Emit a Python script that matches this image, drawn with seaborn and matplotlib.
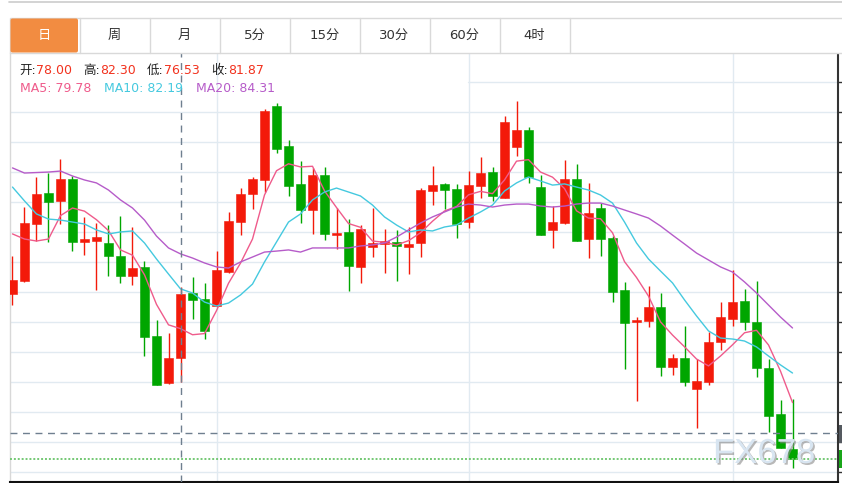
import matplotlib
matplotlib.use('Agg')
import matplotlib.pyplot as plt
import matplotlib.patches as mpatches
import matplotlib.patheffects as pe
import pandas as pd
import seaborn as sns

# Daily candles (price), oldest first
opens = [81.88, 82.67, 86.12, 88.00, 87.52, 88.85, 85.03, 85.09, 84.97, 84.18,
         82.97, 83.52, 79.33, 76.48, 78.00, 81.94, 81.58, 81.15, 83.21, 86.24,
         87.94, 88.79, 93.27, 90.85, 88.55, 86.97, 89.09, 85.45, 85.64, 83.52,
         84.73, 84.91, 85.03, 84.73, 84.97, 88.12, 88.55, 88.24, 86.24, 88.42,
         89.27, 87.70, 90.79, 91.82, 88.36, 85.76, 86.18, 88.85, 85.21, 87.09,
         85.27, 82.12, 80.18, 80.24, 81.09, 77.45, 78.00, 76.12, 76.55, 78.97,
         80.36, 81.45, 80.18, 77.39, 74.61, 72.48]
highs = [84.18, 87.15, 88.97, 89.21, 90.06, 89.03, 86.55, 86.18, 86.06, 86.61,
         85.94, 83.88, 80.30, 79.52, 82.30, 82.91, 82.55, 84.48, 86.85, 88.30,
         88.97, 93.09, 93.45, 91.21, 89.94, 89.52, 89.58, 87.09, 86.42, 86.06,
         87.09, 85.82, 85.76, 85.94, 88.30, 89.64, 88.61, 88.55, 89.33, 90.18,
         89.58, 92.67, 93.58, 92.00, 89.09, 87.21, 90.00, 89.76, 88.61, 87.39,
         85.39, 82.61, 80.48, 82.36, 81.94, 78.24, 79.94, 77.94, 79.58, 81.39,
         83.33, 82.18, 82.67, 77.94, 75.45, 75.52]
lows = [81.21, 82.60, 85.09, 85.03, 86.12, 84.48, 84.24, 82.12, 82.97, 82.55,
        82.42, 78.12, 76.36, 76.45, 76.53, 80.36, 79.15, 81.10, 83.18, 85.45,
        87.03, 88.06, 90.42, 87.82, 86.18, 85.52, 85.15, 84.61, 82.06, 82.55,
        84.12, 83.15, 82.67, 83.09, 84.12, 87.27, 87.03, 85.27, 85.88, 87.70,
        87.52, 87.68, 90.24, 88.61, 85.43, 84.67, 86.15, 85.07, 84.06, 84.18,
        81.39, 77.33, 75.39, 79.88, 76.91, 76.97, 76.30, 73.76, 76.36, 78.48,
        79.94, 79.70, 76.85, 73.52, 72.52, 71.33]
closes = [82.73, 86.18, 87.94, 87.45, 88.85, 85.03, 85.21, 85.33, 84.18, 82.97,
          83.45, 79.27, 76.38, 77.98, 81.87, 81.52, 79.64, 83.33, 86.30, 87.94,
          88.85, 92.97, 90.67, 88.42, 86.97, 89.09, 85.52, 85.58, 83.58, 85.82,
          84.97, 85.09, 84.79, 84.91, 88.18, 88.48, 88.18, 86.12, 88.48, 89.21,
          87.82, 92.30, 91.82, 88.97, 85.45, 86.24, 88.85, 85.09, 86.79, 85.21,
          82.00, 80.12, 80.30, 81.09, 77.45, 77.99, 76.55, 76.61, 78.97, 80.48,
          81.39, 80.18, 77.39, 74.48, 72.55, 71.88]

ma5 = [85.52, 85.21, 85.09, 85.21, 86.63, 87.09, 86.90, 86.38, 85.72, 84.55,
       84.23, 83.04, 81.25, 80.01, 79.78, 79.41, 79.48, 80.87, 82.53, 83.75,
       85.21, 87.88, 89.35, 89.77, 89.58, 89.62, 88.13, 87.12, 86.15, 85.92,
       85.09, 85.01, 84.85, 85.11, 85.59, 86.29, 86.91, 87.18, 87.89, 88.10,
       87.96, 88.79, 89.93, 90.02, 89.27, 88.96, 88.27, 86.92, 86.48, 86.44,
       85.59, 83.84, 82.88, 81.75, 80.19, 79.39, 78.68, 77.94, 77.52, 78.12,
       78.80, 79.53, 79.68, 78.79, 77.20, 75.30]
ma10 = [88.36, 87.52, 86.73, 86.42, 86.36, 86.24, 86.12, 85.76, 85.52, 85.64,
        85.70, 84.97, 84.00, 83.09, 82.19, 81.94, 81.39, 81.15, 81.33, 81.82,
        82.48, 83.82, 85.03, 86.24, 86.73, 87.58, 88.06, 88.30, 88.06, 87.82,
        87.27, 86.55, 86.06, 85.64, 85.76, 85.70, 85.94, 86.06, 86.48, 86.85,
        87.27, 88.12, 88.61, 88.97, 88.73, 88.48, 88.55, 88.36, 88.18, 87.88,
        87.39, 86.24, 84.97, 84.00, 83.27, 82.55, 81.52, 80.55, 79.64, 79.21,
        79.15, 79.03, 78.67, 78.12, 77.58, 77.09]
ma20 = [89.52, 89.21, 89.24, 89.27, 89.33, 89.03, 88.79, 88.61, 88.18, 87.58,
        87.09, 86.36, 85.39, 84.67, 84.31, 84.06, 83.76, 83.52, 83.45, 83.82,
        84.12, 84.42, 84.48, 84.55, 84.42, 84.67, 84.67, 84.67, 84.67, 84.79,
        84.85, 84.97, 85.33, 85.76, 86.18, 86.55, 86.85, 87.15, 87.33, 87.27,
        87.15, 87.27, 87.33, 87.33, 87.21, 87.15, 87.21, 87.33, 87.39, 87.39,
        87.21, 86.97, 86.73, 86.48, 86.00, 85.45, 84.91, 84.36, 83.94, 83.52,
        83.21, 82.61, 81.94, 81.21, 80.48, 79.82]

tabs = ['日', '周', '月', '5分', '15分', '30分', '60分', '4时']
ohlc_labels = ['开', '高', '低', '收']
cursor = 14          # candle under the crosshair
cursor_price = 73.45  # horizontal crosshair level

RED = '#f31a0a'
GREEN = '#00a600'
MA_COLORS = {'MA5': '#ef5b8b', 'MA10': '#45c9df', 'MA20': '#b65cc9'}
GRID = '#e1eaf1'
INFO_FONT = ['DejaVu Sans', 'Noto Sans CJK SC']


def main():
    sns.set_style('white')
    plt.rcParams['font.family'] = ['Noto Sans CJK SC', 'DejaVu Sans']

    fig = plt.figure(figsize=(8.42, 4.83), dpi=100)
    W, H = 842, 483
    ax = fig.add_axes([10 / W, 1 / H, 828 / W, 429 / H])
    n = len(closes)
    idx = list(range(n))

    # grid, every 30 px; the top one is hidden under the info text on the left
    levels = [94.73 - k * 1.8182 for k in range(14)]
    ax.axhline(levels[0], xmin=(38 + 0.208) / 69.0, color=GRID, lw=1.0, zorder=0)
    for lv in levels[1:]:
        ax.axhline(lv, color=GRID, lw=1.0, zorder=0)
    for gx in [17, 38, 60]:
        ax.axvline(gx, color=GRID, lw=1.0, zorder=0)

    # candles
    colors = [RED if c >= o else GREEN for o, c in zip(opens, closes)]
    ax.vlines(idx, lows, highs, colors=colors, lw=1.0, zorder=2)
    bottoms = [min(o, c) for o, c in zip(opens, closes)]
    heights = [max(abs(c - o), 0.08) for o, c in zip(opens, closes)]
    ax.bar(idx, heights, bottom=bottoms, width=0.75, color=colors,
           edgecolor=colors, lw=0.4, zorder=3)

    # moving averages
    df = pd.DataFrame({'idx': idx, 'MA5': ma5, 'MA10': ma10, 'MA20': ma20})
    long = df.melt(id_vars='idx', var_name='ma', value_name='price')
    sns.lineplot(data=long, x='idx', y='price', hue='ma', palette=MA_COLORS,
                 ax=ax, legend=False, lw=1.0, zorder=4)

    # crosshair and last-price line
    ax.axvline(cursor, color='#6f7f8f', lw=1.0, ls=(0, (5, 4)), zorder=5)
    ax.axhline(cursor_price, color='#6f7f8f', lw=1.0, ls=(0, (5, 4)), zorder=5)
    ax.axhline(closes[-1], color='#74c874', lw=1.4, ls=(0, (1, 1)), zorder=5)

    ax.set_xlim(-0.208, 68.79)
    ax.set_ylim(70.485, 96.485)
    ax.set_xlabel('')
    ax.set_ylabel('')
    ax.set_xticks([])
    ax.yaxis.tick_right()
    ax.set_yticks(levels)
    ax.set_yticklabels([])
    ax.tick_params(axis='y', length=4, width=1, color='#333333', direction='out')
    ax.spines['top'].set_visible(False)
    ax.spines['left'].set_color('#d8d8d8')
    ax.spines['left'].set_linewidth(1.0)
    ax.spines['right'].set_color('#333333')
    ax.spines['right'].set_linewidth(1.5)
    ax.spines['bottom'].set_color('#111111')
    ax.spines['bottom'].set_linewidth(1.5)

    # overlay in pixel coordinates: tabs, info text, labels
    ov = fig.add_axes([0, 0, 1, 1], zorder=10)
    ov.set_xlim(0, W)
    ov.set_ylim(H, 0)
    ov.axis('off')
    ov.patch.set_alpha(0)

    ov.plot([9, W], [1.5, 1.5], color='#cccccc', lw=1.2)
    ov.add_patch(mpatches.Rectangle((9.5, 17.5), W, 35.5, fc='white',
                                    ec='#d9d9d9', lw=1.0))
    ov.add_patch(mpatches.FancyBboxPatch((10.5, 18.5), 67.5, 34, fc='#f28c41',
                                         ec='none', boxstyle='round,pad=0,rounding_size=2'))
    for i, t in enumerate(tabs):
        x0 = 9.5 + 70 * i
        if i > 0:
            ov.plot([x0, x0], [17.5, 53], color='#d9d9d9', lw=1.0)
        ov.text(x0 + 35, 35.5, t, ha='center', va='center', fontsize=9.5,
                family=INFO_FONT, color='white' if i == 0 else '#333333')
    ov.plot([569.5, 569.5], [17.5, 53], color='#d9d9d9', lw=1.0)

    vals = [opens[cursor], highs[cursor], lows[cursor], closes[cursor]]
    for k, (lab, v) in enumerate(zip(ohlc_labels, vals)):
        x0 = 19 + 64 * k
        ov.text(x0, 70.5, lab + ':', ha='left', va='center', fontsize=9,
                family=INFO_FONT, color='#222222')
        ov.text(x0 + 17, 70.5, '%.2f' % v, ha='left', va='center', fontsize=9,
                family=INFO_FONT, color='#f2321e')
    ma_vals = {'MA5': ma5[cursor], 'MA10': ma10[cursor], 'MA20': ma20[cursor]}
    for x0, (name, v) in zip([20, 104, 196], ma_vals.items()):
        ov.text(x0, 88, '%s: %.2f' % (name, v), ha='left', va='center',
                fontsize=9, family=INFO_FONT, color=MA_COLORS[name])

    # price tags cut by the right edge
    ov.add_patch(mpatches.Rectangle((839, 425), 4, 18, fc='#555a60', ec='none'))
    ov.add_patch(mpatches.Rectangle((839, 450), 4, 18, fc='#19a619', ec='none'))

    ov.text(713, 463, 'FX678', fontsize=25, color='#d8e5f1', family='Liberation Sans',
            ha='left', va='baseline',
            path_effects=[pe.withSimplePatchShadow(offset=(1.2, -1.2),
                                                   shadow_rgbFace='#8a8a8a', alpha=0.6)])

    fig.savefig('out.png', dpi=100, facecolor='white')


if __name__ == '__main__':
    main()
